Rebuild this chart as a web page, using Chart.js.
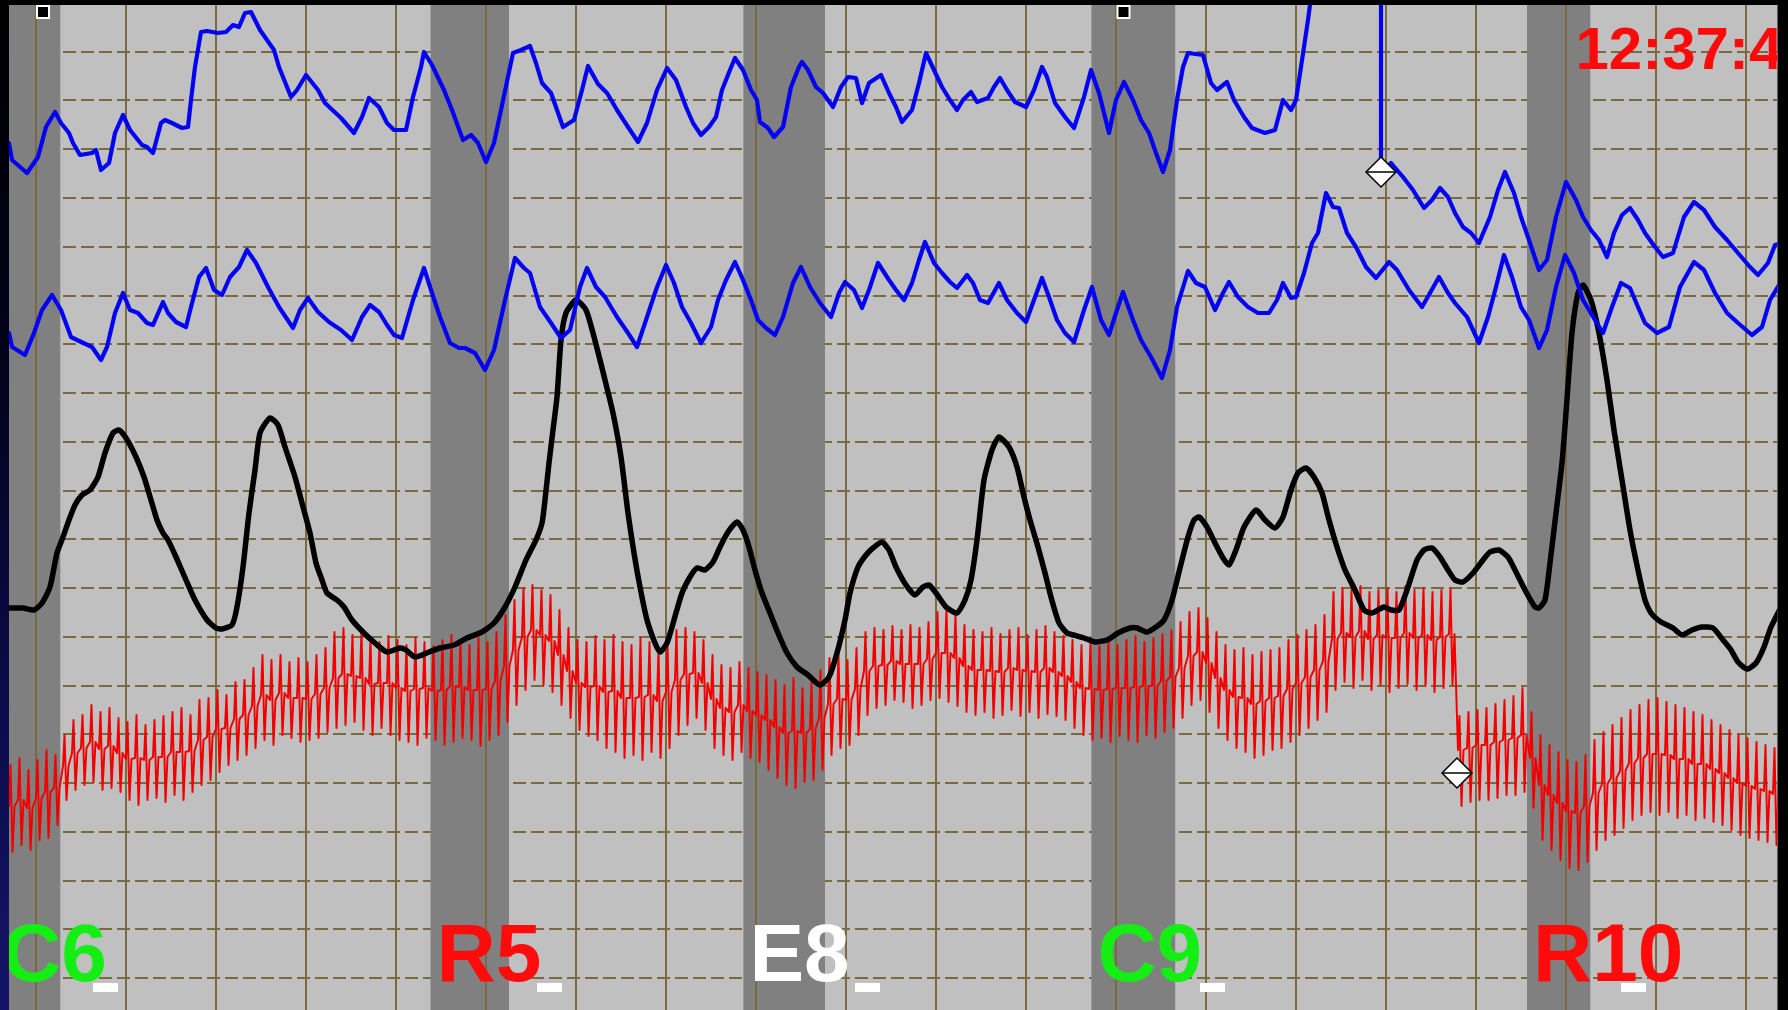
<!DOCTYPE html>
<html>
<head>
<meta charset="utf-8">
<script src="https://cdn.jsdelivr.net/npm/chart.js@4.4.1/dist/chart.umd.min.js"></script>
<style>
  html, body { margin: 0; padding: 0; background: #000; overflow: hidden; }
  #edge { position: absolute; left: 0; top: 0; width: 12px; height: 1010px;
          background: linear-gradient(to bottom, #000 0%, #02021a 35%, #0b0b4a 70%, #141466 100%); }
  #chart { position: absolute; left: 0; top: 0; }
</style>
</head>
<body>
<div id="edge"></div>
<canvas id="chart" width="1788" height="1010"></canvas>
<script>
// time axis runs in chart samples, pen position is measured down from the top edge
const gridStartT = 35.6, gridStepT = 90, gridCountT = 20;
const gridStartY = 51.7, gridStepY = 48.76, gridCountY = 20;

// question periods
const questionLabels = ['C6', 'R5', 'E8', 'C9', 'R10'];
const questionOnset  = [-4, 430.5, 743.4, 1091.4, 1527];
const questionOffset = [60.3, 509, 825, 1175.2, 1590.3];
const answerAt       = [105, 549, 867, 1212, 1633];
const eventMarks     = [[43, 12], [1123.5, 12]];
const clockText = '12:37:4';

// upper pneumo
const pneumo1 = [[9,143],[12,160],[27,173],[38,157],[46,127],[55,112],[61,123],[69,133],[73,143],[80,155],[92,153],[96,150],[101,170],[109,163],[115,133],[123,115],[130,130],[142,145],[147,147],[153,153],[161,123],[165,120],[172,123],[182,128],[188,127],[191,100],[195,67],[201,32],[207,31],[218,33],[226,32],[233,25],[239,27],[245,13],[251,12],[260,30],[274,50],[279,67],[291,97],[297,90],[306,75],[318,90],[325,103],[341,118],[354,133],[362,117],[369,98],[379,107],[387,123],[394,130],[406,130],[413,97],[421,67],[424,52],[432,65],[444,90],[452,110],[463,140],[471,135],[478,143],[486,162],[494,143],[501,110],[513,53],[521,50],[530,46],[536,63],[542,83],[551,93],[563,127],[574,120],[582,90],[588,66],[598,84],[607,93],[617,110],[628,127],[638,142],[647,123],[657,90],[667,68],[676,80],[686,107],[693,123],[701,135],[709,127],[716,117],[722,90],[730,70],[735,58],[743,70],[751,90],[757,100],[760,122],[768,128],[774,137],[783,127],[791,87],[799,67],[802,62],[808,70],[816,87],[823,93],[833,107],[841,87],[848,77],[856,78],[862,103],[869,83],[881,75],[889,93],[896,107],[902,122],[912,110],[919,83],[926,53],[934,70],[942,87],[950,100],[957,110],[963,100],[971,92],[977,102],[988,98],[994,87],[1000,78],[1007,90],[1015,102],[1026,107],[1034,90],[1042,67],[1047,77],[1055,103],[1065,117],[1074,128],[1084,97],[1091,70],[1099,93],[1109,133],[1116,100],[1124,82],[1133,100],[1141,120],[1149,133],[1156,153],[1163,172],[1170,150],[1177,100],[1183,67],[1188,53],[1203,55],[1211,83],[1217,90],[1227,82],[1234,100],[1244,117],[1252,128],[1265,133],[1275,130],[1283,100],[1291,110],[1296,100],[1304,47],[1308,20],[1312,-10],[1330,-80],[1381,-80],[1381,172],[1391,163],[1403,177],[1413,190],[1424,208],[1432,200],[1440,188],[1448,197],[1455,213],[1463,227],[1471,233],[1479,243],[1490,217],[1498,190],[1505,172],[1514,193],[1521,217],[1529,240],[1539,270],[1547,260],[1556,217],[1566,182],[1576,200],[1583,217],[1591,230],[1599,240],[1607,257],[1614,233],[1622,215],[1630,208],[1638,220],[1645,233],[1655,247],[1663,257],[1673,253],[1684,217],[1694,202],[1704,210],[1715,227],[1727,240],[1738,253],[1750,267],[1758,275],[1768,263],[1775,245],[1782,243]];

// lower pneumo
const pneumo2 = [[9,333],[12,347],[25,355],[34,333],[42,310],[52,295],[61,310],[71,337],[77,340],[92,347],[101,360],[107,347],[115,313],[123,293],[130,310],[138,313],[147,323],[153,325],[163,302],[168,313],[176,322],[186,327],[191,307],[199,277],[206,268],[214,290],[222,295],[230,277],[239,267],[247,250],[256,263],[268,287],[279,307],[293,328],[300,310],[308,298],[318,312],[329,322],[341,330],[352,340],[362,317],[370,305],[379,312],[387,325],[394,335],[402,338],[413,300],[424,268],[432,293],[440,317],[450,343],[459,348],[465,348],[475,353],[485,370],[494,350],[505,300],[515,258],[524,268],[530,273],[540,307],[551,323],[561,338],[570,330],[580,287],[587,268],[596,287],[605,297],[617,317],[628,333],[637,347],[647,317],[657,287],[666,265],[674,283],[682,307],[691,323],[701,343],[711,327],[718,300],[726,280],[735,262],[743,280],[751,300],[758,320],[766,328],[775,335],[783,317],[793,283],[801,267],[810,287],[820,303],[831,317],[839,293],[845,282],[854,290],[862,308],[869,290],[878,263],[889,280],[896,290],[904,300],[912,283],[919,260],[925,242],[934,263],[942,273],[950,282],[957,288],[967,275],[973,283],[980,300],[988,303],[999,283],[1007,300],[1017,313],[1026,322],[1034,300],[1042,278],[1049,297],[1057,320],[1065,333],[1074,342],[1084,310],[1092,287],[1101,320],[1109,335],[1116,313],[1123,292],[1133,320],[1141,340],[1151,357],[1162,378],[1170,350],[1177,307],[1188,271],[1196,283],[1205,287],[1215,310],[1223,293],[1229,282],[1238,297],[1248,307],[1258,313],[1269,313],[1277,300],[1283,283],[1291,298],[1296,297],[1304,273],[1312,243],[1318,233],[1326,193],[1333,207],[1339,208],[1347,233],[1356,247],[1366,267],[1376,278],[1389,262],[1397,270],[1409,290],[1422,307],[1430,293],[1439,277],[1448,293],[1455,303],[1467,317],[1479,343],[1488,317],[1496,287],[1504,255],[1512,277],[1521,307],[1529,320],[1539,348],[1547,330],[1556,287],[1565,255],[1574,273],[1583,300],[1595,320],[1603,333],[1612,307],[1621,283],[1630,288],[1638,307],[1645,323],[1657,333],[1669,327],[1680,287],[1694,262],[1704,270],[1715,293],[1727,313],[1738,323],[1752,335],[1762,327],[1770,300],[1782,280]];

// electrodermal
const eda = [[9,608],[23,608],[34,610],[42,603],[50,587],[57,553],[63,537],[69,520],[75,505],[82,495],[90,490],[98,477],[105,453],[113,433],[119,430],[126,438],[136,457],[144,477],[151,500],[157,520],[163,533],[168,540],[176,557],[186,580],[195,600],[207,620],[216,628],[222,629],[232,625],[237,607],[243,567],[249,513],[255,470],[260,433],[270,418],[278,425],[285,447],[295,477],[302,503],[310,533],[316,563],[322,580],[327,593],[337,600],[344,607],[352,620],[364,633],[375,643],[387,652],[400,648],[406,650],[415,657],[429,652],[440,648],[454,645],[467,638],[482,632],[494,623],[505,607],[515,587],[526,560],[536,540],[542,523],[545,500],[549,463],[553,430],[557,397],[561,340],[566,313],[576,300],[586,310],[593,333],[600,360],[605,380],[613,413],[621,457],[628,513],[634,553],[640,587],[647,620],[655,643],[660,652],[667,643],[674,620],[682,593],[690,577],[697,568],[705,570],[713,562],[720,547],[728,532],[737,522],[743,530],[749,547],[755,570],[762,593],[770,613],[778,633],[787,653],[797,667],[808,675],[820,685],[829,677],[837,653],[845,620],[850,593],[858,567],[866,555],[873,548],[882,542],[889,550],[896,567],[906,585],[915,595],[923,587],[929,585],[936,593],[946,607],[957,613],[965,600],[971,580],[977,540],[984,480],[992,450],[999,437],[1009,447],[1017,467],[1024,497],[1030,520],[1038,547],[1045,573],[1051,597],[1059,623],[1067,633],[1074,635],[1084,638],[1095,642],[1107,640],[1118,633],[1130,628],[1137,628],[1147,632],[1156,627],[1164,620],[1172,600],[1180,568],[1188,537],[1194,520],[1199,517],[1207,527],[1215,543],[1223,558],[1229,565],[1236,550],[1244,527],[1256,510],[1265,520],[1275,528],[1283,517],[1291,490],[1298,473],[1306,468],[1314,477],[1322,493],[1329,520],[1337,547],[1345,570],[1355,590],[1364,610],[1372,613],[1384,607],[1391,610],[1399,610],[1407,590],[1417,560],[1424,550],[1432,548],[1440,557],[1448,570],[1455,580],[1463,582],[1473,573],[1483,560],[1490,552],[1499,550],[1508,557],[1515,570],[1525,590],[1535,607],[1539,608],[1545,600],[1550,563],[1556,513],[1562,463],[1566,413],[1572,333],[1578,293],[1583,285],[1591,300],[1599,333],[1607,380],[1614,430],[1622,480],[1630,530],[1638,570],[1645,600],[1651,613],[1661,622],[1673,628],[1682,635],[1692,630],[1702,627],[1713,628],[1723,640],[1731,650],[1738,662],[1747,669],[1756,663],[1764,647],[1771,627],[1782,605]];

// cardio, per beat: systolic peak, diastolic trough and the level in between
const beatStart = 9, beatStep = 9;
const cardioHi = [765,758,770,760,750,755,735,720,715,705, 712,708,718,722,715,725,720,716,712,708,
  715,700,698,690,695,682,680,668,655,660, 655,662,658,662,655,648,632,628,635,630,
  638,642,636,640,645,638,642,646,640,635, 640,645,638,642,632,615,600,588,585,590,
  595,610,628,640,642,636,640,635,642,645, 638,642,648,640,630,628,632,640,655,665,
  668,662,668,672,675,680,685,678,688,682, 670,658,655,660,648,632,628,630,626,630,
  625,628,622,612,608,615,625,630,632,628, 634,630,628,635,630,626,632,636,640,645,
  642,646,640,645,640,636,642,638,634,630, 622,612,608,618,632,645,650,648,655,652,
  650,648,640,635,630,625,615,592,588,590, 586,592,590,588,592,586,590,588,592,590,
  588,716,712,710,708,704,700,696,688,712, 735,745,752,760,762,755,740,732,725,718,
  710,705,700,698,702,705,708,712,715,720, 725,730,735,738,742,745,748];
const cardioLo = [852,845,850,840,838,825,800,790,785,782, 790,788,792,800,805,800,798,802,795,800,
  792,785,780,772,765,760,755,748,740,745, 735,738,742,740,738,732,728,725,722,730,
  735,728,735,740,742,745,738,740,745,742, 738,740,746,740,735,722,705,690,680,685,
  692,705,718,730,736,740,748,752,758,755, 760,752,758,748,735,725,718,730,748,755,
  760,752,758,762,770,778,785,788,782,780, 770,755,748,745,735,715,708,705,700,702,
  708,705,700,698,702,706,712,715,712,718, 715,710,716,712,718,714,716,720,728,735,
  740,738,742,736,740,742,735,738,732,728, 718,705,700,712,728,740,748,752,758,755,
  750,748,742,735,728,720,712,690,682,688, 680,690,685,692,688,684,690,686,692,688,
  685,806,802,800,800,798,795,795,792,808, 840,850,860,868,870,862,850,840,835,828,
  820,815,812,815,812,818,815,820,818,822, 825,830,835,838,840,842,845];
const cardioMid = [806,800,808,798,792,788,766,753,748,742, 749,746,753,759,758,760,757,757,752,752,
  751,740,737,729,728,719,715,706,695,700, 693,698,698,699,694,688,678,674,676,678,
  684,683,683,688,691,689,688,691,690,686, 687,690,690,689,681,666,650,637,630,635,
  641,655,671,683,687,686,692,691,698,698, 697,695,701,692,680,674,673,683,699,708,
  712,705,711,715,720,727,733,731,733,729, 718,704,699,700,689,671,666,665,661,664,
  664,664,659,653,653,658,666,670,670,671, 672,668,670,671,672,668,672,676,682,688,
  689,690,689,688,688,687,686,686,681,677, 668,656,652,663,678,690,697,698,704,701,
  698,696,689,683,677,670,661,639,633,637, 631,639,635,638,638,633,638,635,640,637,
  634,750,748,745,745,742,740,738,735,758, 785,795,803,811,813,806,793,784,778,771,
  763,758,754,754,755,759,759,764,764,769, 773,778,783,786,789,791,794];

// adjustment markers
const pneumoMark = [[1381, 172]];
const cardioMark = [[1457, 773]];

const cardio = [];
cardioHi.forEach((hi, i) => {
  const t = beatStart + i * beatStep;
  cardio.push([t, cardioMid[i]], [t + 1.5, hi], [t + 3.5, cardioLo[i]], [t + 5.5, cardioMid[i]]);
});

const gridColor = '#7a6a3e';
const labelColor = { C: '#14ee14', R: '#ff0b0b', E: '#ffffff' };

const chartBits = {
  id: 'chartBits',
  beforeDraw(chart) {
    const { ctx, chartArea: a } = chart;
    ctx.save();
    ctx.fillStyle = '#c0c0c0';
    ctx.fillRect(a.left, a.top, a.right - a.left, a.bottom - a.top);
    ctx.restore();
  },
  beforeDatasetsDraw(chart) {
    const { ctx, chartArea: a, scales: { x } } = chart;
    ctx.save();
    ctx.beginPath();
    ctx.rect(a.left, a.top, a.right - a.left, a.bottom - a.top);
    ctx.clip();

    // question bands
    ctx.fillStyle = '#808080';
    questionOnset.forEach((on, i) => {
      const x0 = x.getPixelForValue(on), x1 = x.getPixelForValue(questionOffset[i]);
      ctx.fillRect(x0, a.top, x1 - x0, a.bottom - a.top);
    });

    // vertical grid on top of the bands
    ctx.strokeStyle = gridColor;
    ctx.lineWidth = 2;
    x.ticks.forEach(t => {
      const px = Math.round(x.getPixelForValue(t.value));
      ctx.beginPath();
      ctx.moveTo(px, a.top);
      ctx.lineTo(px, a.bottom);
      ctx.stroke();
    });

    // question labels and answer marks
    ctx.font = 'bold 82px "Liberation Sans", Arial, sans-serif';
    ctx.textBaseline = 'alphabetic';
    questionLabels.forEach((lab, i) => {
      ctx.fillStyle = labelColor[lab[0]];
      ctx.fillText(lab, x.getPixelForValue(questionOnset[i]) + 6, a.bottom - 29);
      ctx.fillStyle = '#ffffff';
      ctx.fillRect(x.getPixelForValue(answerAt[i]) - 12, a.bottom - 27, 25, 9);
    });

    ctx.fillStyle = '#ff0a0a';
    ctx.font = 'bold 60px "Liberation Sans", Arial, sans-serif';
    ctx.fillText(clockText, a.right - 202, a.top + 64);
    ctx.restore();
  }
};

const lineBase = { pointRadius: 0, tension: 0, clip: 0, borderJoinStyle: 'round', borderCapStyle: 'round' };

new Chart(document.getElementById('chart'), {
  type: 'line',
  data: {
    datasets: [
      { data: pneumoMark, showLine: false, pointStyle: 'line', pointRadius: 15, pointBorderColor: '#000', pointBorderWidth: 1.5, order: 0 },
      { data: cardioMark, showLine: false, pointStyle: 'line', pointRadius: 15, pointBorderColor: '#000', pointBorderWidth: 1.5, order: 0 },
      { data: pneumoMark, showLine: false, pointStyle: 'rectRot', pointRadius: 15, pointBackgroundColor: '#fff', pointBorderColor: '#000', pointBorderWidth: 1.5, order: 1 },
      { data: cardioMark, showLine: false, pointStyle: 'rectRot', pointRadius: 15, pointBackgroundColor: '#fff', pointBorderColor: '#000', pointBorderWidth: 1.5, order: 1 },
      { data: eventMarks, showLine: false, pointStyle: 'rect', pointRadius: 8.5, pointBackgroundColor: '#000', pointBorderColor: '#fff', pointBorderWidth: 2, order: 1 },
      { ...lineBase, data: pneumo1, borderColor: '#0303f2', borderWidth: 4.2, order: 2 },
      { ...lineBase, data: pneumo2, borderColor: '#0303f2', borderWidth: 4.2, order: 2 },
      { ...lineBase, data: eda, borderColor: '#000000', borderWidth: 5.5, tension: 0.2, order: 3 },
      { ...lineBase, data: cardio, borderColor: '#f20000', borderWidth: 2, order: 4 }
    ]
  },
  options: {
    responsive: false,
    animation: false,
    events: [],
    layout: { autoPadding: false, padding: { left: 9, right: 10.5, top: 5, bottom: 0 } },
    plugins: { legend: { display: false }, tooltip: { enabled: false } },
    scales: {
      x: {
        type: 'linear', min: 9, max: 1777.5,
        grid: { display: false, drawTicks: false },
        border: { display: false },
        ticks: { display: false },
        afterBuildTicks: s => { s.ticks = Array.from({ length: gridCountT }, (_, k) => ({ value: gridStartT + k * gridStepT })); }
      },
      y: {
        type: 'linear', reverse: true, min: 5, max: 1010,
        grid: { color: gridColor, lineWidth: 2, drawTicks: false },
        border: { display: false, dash: [13, 5] },
        ticks: { display: false },
        afterBuildTicks: s => { s.ticks = Array.from({ length: gridCountY }, (_, k) => ({ value: gridStartY + k * gridStepY })); }
      }
    }
  },
  plugins: [chartBits]
});
</script>
</body>
</html>
